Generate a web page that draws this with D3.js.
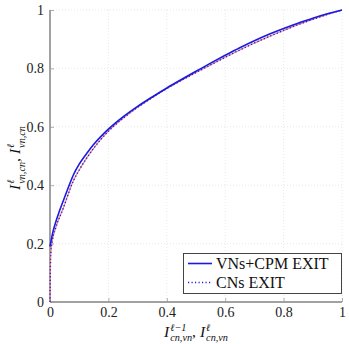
<!DOCTYPE html>
<html><head><meta charset="utf-8">
<script src="https://cdn.jsdelivr.net/npm/d3@7/dist/d3.min.js"></script>
<style>body{margin:0;background:#fff}svg{display:block}svg text{font-family:"Liberation Serif","DejaVu Serif","Times New Roman",serif !important}</style>
</head><body><svg id="c" width="349" height="344"></svg>
<script>
const xTicks = [0, 0.2, 0.4, 0.6, 0.8, 1];
const yTicks = [0, 0.2, 0.4, 0.6, 0.8, 1];
const tickLabels = ["0", "0.2", "0.4", "0.6", "0.8", "1"];
const seriesNames = ["VNs+CPM EXIT", "CNs EXIT"];
const vnX = [0, 0.01, 0.02, 0.03, 0.045, 0.06, 0.08, 0.1, 0.125, 0.15, 0.2, 0.25, 0.3, 0.35, 0.4, 0.45, 0.5, 0.55, 0.6, 0.65, 0.7, 0.75, 0.8, 0.85, 0.9, 0.95, 1.0];
const vnY = [0.19, 0.24, 0.275, 0.305, 0.345, 0.385, 0.435, 0.472, 0.508, 0.54, 0.592, 0.634, 0.67, 0.702, 0.733, 0.762, 0.79, 0.818, 0.845, 0.871, 0.895, 0.917, 0.937, 0.955, 0.972, 0.987, 1.0];
const cnX = [0, 0.001, 0.003, 0.008, 0.02, 0.045, 0.08, 0.1, 0.125, 0.15, 0.2, 0.25, 0.3, 0.35, 0.4, 0.45, 0.5, 0.55, 0.6, 0.65, 0.7, 0.75, 0.8, 0.85, 0.9, 0.95, 1.0];
const cnY = [0, 0.1, 0.17, 0.21, 0.255, 0.32, 0.415, 0.452, 0.492, 0.527, 0.585, 0.629, 0.667, 0.7, 0.731, 0.759, 0.786, 0.812, 0.838, 0.863, 0.887, 0.909, 0.93, 0.95, 0.968, 0.985, 1.0];

const svg = d3.select("#c");
const L = 50, R = 342, T = 10, B = 302;
const x = d3.scaleLinear().domain([0, 1]).range([L, R]);
const y = d3.scaleLinear().domain([0, 1]).range([B, T]);
const axisCol = "#444";

// grid
const g = svg.append("g");
g.selectAll(".gx").data(xTicks.slice(1)).enter().append("line")
  .attr("x1", d => x(d)).attr("x2", d => x(d)).attr("y1", B).attr("y2", T)
  .attr("stroke", "#d8d8d8").attr("stroke-width", 0.6).attr("stroke-dasharray", "1,2");
g.selectAll(".gy").data(yTicks.slice(1)).enter().append("line")
  .attr("y1", d => y(d)).attr("y2", d => y(d)).attr("x1", L).attr("x2", R)
  .attr("stroke", "#d8d8d8").attr("stroke-width", 0.6).attr("stroke-dasharray", "1,2");

// axes
const xAxis = d3.axisBottom(x).tickValues(xTicks).tickSize(-4).tickPadding(5).tickFormat((d, i) => tickLabels[i]);
const yAxis = d3.axisLeft(y).tickValues(yTicks).tickSize(-4).tickPadding(6).tickFormat((d, i) => tickLabels[i]);
const gx = svg.append("g").attr("transform", `translate(0,${B})`).call(xAxis);
const gy = svg.append("g").attr("transform", `translate(${L},0)`).call(yAxis);
[gx, gy].forEach(a => {
  a.attr("font-family", null);
  a.select(".domain").attr("stroke", axisCol).attr("stroke-width", 1);
  a.selectAll(".tick line").attr("stroke", "#999").attr("stroke-width", 0.8);
  a.selectAll(".tick text").attr("font-size", 14).attr("fill", "#222");
});
gx.select(".domain").attr("d", `M${L},0H${R}`);
gy.select(".domain").attr("d", `M0,${B}V${T}`);

// curves
const line = d3.line().x(d => x(d[0])).y(d => y(d[1])).curve(d3.curveMonotoneX);
const vn = vnX.map((v, i) => [v, vnY[i]]);
const cn = cnX.map((v, i) => [v, cnY[i]]);
svg.append("path").attr("d", line(cn)).attr("fill", "none").attr("stroke", "#ee8888").attr("stroke-width", 1.2);
svg.append("path").attr("d", line(cn)).attr("fill", "none").attr("stroke", "#2020e0").attr("stroke-width", 1.4).attr("stroke-dasharray", "1.2,2.3");
svg.append("path").attr("d", line(vn)).attr("fill", "none").attr("stroke", "#1a1ae0").attr("stroke-width", 1.6);

// legend
const lg = svg.append("g");
lg.append("rect").attr("x", 183.5).attr("y", 253.5).attr("width", 158).attr("height", 40)
  .attr("fill", "#fff").attr("stroke", axisCol).attr("stroke-width", 1);
lg.append("line").attr("x1", 188).attr("x2", 212).attr("y1", 263.5).attr("y2", 263.5).attr("stroke", "#1a1ae0").attr("stroke-width", 1.6);
lg.append("line").attr("x1", 188).attr("x2", 212).attr("y1", 282.5).attr("y2", 282.5).attr("stroke", "#2020e0").attr("stroke-width", 1.4).attr("stroke-dasharray", "1.2,2.3");
lg.selectAll("text.lt").data(seriesNames).enter().append("text")
  .attr("x", 216).attr("y", (d, i) => 268.5 + i * 19).text(d => d)
  .attr("font-size", 16).attr("fill", "#111");

// math label helper
function mathLabel(parent, parts, fs) {
  const grp = parent.append("g");
  let cx = 0;
  parts.forEach((p, k) => {
    if (k > 0) {
      const c = grp.append("text").attr("x", cx).attr("y", 0).text(",").attr("font-size", fs);
      cx += c.node().getComputedTextLength() + 4;
    }
    const b = grp.append("text").attr("x", cx).attr("y", 0).text(p[0]).attr("font-style", "italic").attr("font-size", fs);
    cx += b.node().getComputedTextLength() + 1;
    const s1 = grp.append("text").attr("x", cx).attr("y", -fs * 0.38).text(p[1]).attr("font-style", "italic").attr("font-size", fs * 0.66);
    const s2 = grp.append("text").attr("x", cx).attr("y", fs * 0.3).text(p[2]).attr("font-style", "italic").attr("font-size", fs * 0.66);
    cx += Math.max(s1.node().getComputedTextLength(), s2.node().getComputedTextLength());
  });
  grp.selectAll("text").attr("fill", "#111");
  return {grp, width: cx};
}

const xl = mathLabel(svg, [["I", "ℓ−1", "cn,vn"], ["I", "ℓ", "cn,vn"]], 15.5);
xl.grp.attr("transform", `translate(${196 - xl.width / 2},336.5)`);
const yl = mathLabel(svg, [["I", "ℓ", "vn,cn"], ["I", "ℓ", "vn,cn"]], 15.5);
yl.grp.attr("transform", `translate(20,${158 + yl.width / 2}) rotate(-90)`);
</script></body></html>
